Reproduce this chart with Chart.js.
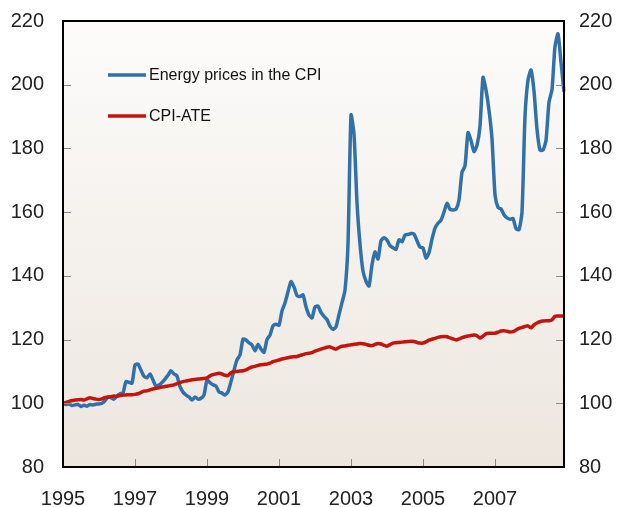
<!DOCTYPE html>
<html>
<head>
<meta charset="utf-8">
<script src="https://cdn.jsdelivr.net/npm/chart.js@4.4.1/dist/chart.umd.min.js"></script>
<style>
    html, body { margin: 0; padding: 0; background: #ffffff; }
    #wrap { width: 619px; height: 507px; }
</style>
</head>
<body>
<div id="wrap"><canvas id="energyChart" width="619" height="507"></canvas></div>
<script>
// Monthly series, January 1995 = first point
const startYear = 1995;
const monthCount = 168;

// Energy prices in the CPI (index)
const energyPrices = [
    100.0, 99.6, 99.8, 99.3, 99.5, 99.6, 99.0, 99.4, 99.1, 99.6, 99.5, 99.7,
    99.8, 100.0, 100.8, 102.0, 101.8, 101.3, 102.3, 103.0, 103.3, 106.8, 106.6, 106.3,
    112.0, 112.3, 110.4, 108.5, 108.0, 109.2, 107.3, 105.4, 105.7, 106.5, 107.6, 108.8,
    110.2, 109.2, 108.6, 105.2, 103.5, 102.6, 102.0, 101.0, 102.0, 101.3, 101.6, 102.6,
    107.3, 106.5, 105.8, 105.4, 103.6, 103.2, 102.6, 103.6, 106.8, 110.4, 113.6, 115.2,
    120.1, 119.9, 119.0, 118.3, 116.5, 118.5, 117.0, 116.0, 120.0, 121.4, 124.3, 124.8,
    124.5, 129.0, 131.5, 135.0, 138.2, 136.5, 133.8, 133.5, 134.0, 130.3, 127.7, 126.8,
    130.2, 130.5, 128.5, 127.3, 126.3, 124.2, 123.2, 124.0, 127.8, 131.6, 135.5, 150.0,
    190.5, 184.5, 163.0, 150.0, 141.5, 138.3, 136.8, 143.5, 147.5, 145.3, 151.0, 152.0,
    151.2, 149.5, 148.8, 148.3, 151.3, 150.7, 152.8, 153.0, 153.3, 153.1, 151.0, 149.0,
    148.8, 145.6, 147.3, 151.5, 155.0, 156.5, 157.5, 160.0, 162.8, 160.9, 160.7, 160.9,
    163.8, 172.5, 174.5, 185.0, 182.5, 179.0, 181.0, 187.0, 202.3, 198.3, 192.0, 183.0,
    165.5, 161.5, 161.0, 159.2, 158.2, 157.8, 158.0, 154.8, 154.5, 160.0, 190.0, 201.5,
    204.6, 198.0, 186.0, 179.5, 179.5, 182.5, 194.5, 198.5, 212.0, 216.0, 207.0, 197.8
];

// CPI-ATE (index)
const cpiAte = [
    100.0, 100.3, 100.6, 100.9, 101.0, 101.1, 101.2, 101.0, 101.4, 101.7, 101.5, 101.3,
    101.2, 101.4, 101.8, 101.9, 102.1, 102.3, 102.2, 102.4, 102.6, 102.6, 102.7, 102.7,
    102.8, 103.0, 103.4, 103.8, 103.9, 104.2, 104.5, 104.7, 104.9, 105.1, 105.3, 105.4,
    105.6, 105.8, 106.2, 106.5, 106.8, 107.0, 107.2, 107.4, 107.5, 107.6, 107.7, 107.8,
    108.0, 108.6, 109.0, 109.2, 109.4, 109.2, 108.8, 108.7, 109.6, 109.9, 110.0, 110.1,
    110.2, 110.5, 111.0, 111.4, 111.6, 111.9, 112.1, 112.2, 112.3, 112.6, 113.1, 113.3,
    113.6, 113.9, 114.1, 114.3, 114.5, 114.6, 114.7, 115.0, 115.3, 115.6, 115.7, 115.9,
    116.4, 116.7, 117.0, 117.3, 117.6, 117.7, 117.3, 117.0, 117.5, 117.9, 118.0, 118.2,
    118.4, 118.5, 118.6, 118.8, 118.7, 118.5, 118.2, 118.1, 118.5, 118.8, 118.6, 118.2,
    117.9, 118.4, 118.9, 119.0, 119.1, 119.2, 119.3, 119.4, 119.5, 119.4, 119.1, 118.9,
    118.9, 119.3, 119.8, 120.1, 120.4, 120.7, 120.9, 121.0, 120.9, 120.5, 120.2, 119.9,
    120.2, 120.6, 120.9, 121.1, 121.3, 121.4, 121.2, 120.5, 121.1, 121.8, 122.0, 122.0,
    122.0, 122.3, 122.7, 122.8, 122.6, 122.4, 122.5, 123.0, 123.5, 123.8, 124.1, 124.3,
    123.7, 124.6, 125.2, 125.6, 125.8, 125.9, 125.9, 126.2, 127.3, 127.4, 127.4, 127.4
];

// Axis settings
const yMin = 80;
const yMax = 220;
const yStep = 20;
const labelYears = [1995, 1997, 1999, 2001, 2003, 2005, 2007];

const seriesNames = ['Energy prices in the CPI', 'CPI-ATE'];
const seriesColors = ['#3171aa', '#c3150d'];

// Month labels, e.g. "1995-01"
const monthLabels = [];
for (let i = 0; i < monthCount; i++) {
    const y = startYear + Math.floor(i / 12);
    const m = (i % 12) + 1;
    monthLabels.push(y + '-' + String(m).padStart(2, '0'));
}

const FONT = '"Liberation Sans", Arial, sans-serif';

/**
 * Gradient plot background + black frame + inner tick marks
 */
const framePlugin = {
    id: 'frame',
    beforeDatasetsDraw(chart) {
        const { ctx, chartArea: a } = chart;
        const grad = ctx.createLinearGradient(0, a.top, 0, a.bottom);
        grad.addColorStop(0, '#fdfcfb');
        grad.addColorStop(1, '#ece6de');
        ctx.save();
        ctx.fillStyle = grad;
        ctx.fillRect(a.left, a.top, a.right - a.left, a.bottom - a.top);
        ctx.restore();
    },
    afterDraw(chart) {
        const { ctx, chartArea: a, scales } = chart;
        ctx.save();

        // Inner tick marks
        ctx.strokeStyle = '#8a8a8a';
        ctx.lineWidth = 1;
        const len = 8;
        ctx.beginPath();
        for (let v = yMin + yStep; v < yMax; v += yStep) {
            const py = Math.round(scales.y.getPixelForValue(v)) + 0.5;
            ctx.moveTo(a.left, py);
            ctx.lineTo(a.left + len, py);
            ctx.moveTo(a.right, py);
            ctx.lineTo(a.right - len, py);
        }
        labelYears.forEach(yr => {
            const idx = (yr - startYear) * 12;
            if (idx === 0) return;
            const px = Math.round(scales.x.getPixelForValue(idx)) + 0.5;
            ctx.moveTo(px, a.bottom);
            ctx.lineTo(px, a.bottom - len);
        });
        ctx.stroke();

        // Frame
        ctx.strokeStyle = '#000000';
        ctx.lineWidth = 2;
        ctx.strokeRect(a.left, a.top, a.right - a.left, a.bottom - a.top);
        ctx.restore();
    }
};

/**
 * Legend drawn inside the plot area
 */
const insideLegendPlugin = {
    id: 'insideLegend',
    afterDraw(chart) {
        const { ctx, chartArea: a } = chart;
        ctx.save();
        ctx.font = '16px ' + FONT;
        ctx.textBaseline = 'middle';
        chart.data.datasets.forEach((ds, i) => {
            const y = a.top + 54 + i * 41;
            ctx.strokeStyle = ds.borderColor;
            ctx.lineWidth = 3.5;
            ctx.beginPath();
            ctx.moveTo(a.left + 45, y);
            ctx.lineTo(a.left + 83, y);
            ctx.stroke();
            ctx.fillStyle = '#111111';
            ctx.fillText(ds.label, a.left + 86, y + 1);
        });
        ctx.restore();
    }
};

const tickFont = { family: FONT, size: 20 };

// Fixed axis sizes so the plot frame lands where it does in the original
function fixWidth(w) {
    return scale => {
        scale.width = w;
        scale.paddingTop = 0;
        scale.paddingBottom = 0;
    };
}

new Chart(document.getElementById('energyChart'), {
    type: 'line',
    data: {
        labels: monthLabels,
        datasets: [{
            label: seriesNames[0],
            data: energyPrices,
            borderColor: seriesColors[0],
            borderWidth: 3.5,
            pointRadius: 0,
            tension: 0.2,
            order: 1
        }, {
            label: seriesNames[1],
            data: cpiAte,
            borderColor: seriesColors[1],
            borderWidth: 3.5,
            pointRadius: 0,
            tension: 0.2,
            order: 0
        }]
    },
    options: {
        responsive: false,
        animation: false,
        devicePixelRatio: 1,
        layout: { padding: { top: 21, left: 0, right: 0, bottom: 0 } },
        plugins: {
            legend: { display: false },
            tooltip: { enabled: false }
        },
        scales: {
            x: {
                type: 'category',
                offset: false,
                grid: { display: false, drawTicks: false },
                border: { display: false },
                ticks: {
                    autoSkip: false,
                    maxRotation: 0,
                    padding: 20,
                    color: '#222222',
                    font: tickFont,
                    callback(val) {
                        const lab = this.getLabelForValue(val);
                        const yr = parseInt(lab.slice(0, 4), 10);
                        if (lab.slice(5) === '01' && labelYears.includes(yr)) return String(yr);
                        return null;
                    }
                },
                afterFit(scale) {
                    scale.height = 40;
                    scale.paddingLeft = 0;
                    scale.paddingRight = 0;
                }
            },
            y: {
                position: 'left',
                min: yMin,
                max: yMax,
                grid: { display: false, drawTicks: false },
                border: { display: false },
                ticks: { stepSize: yStep, padding: 19, color: '#222222', font: tickFont },
                afterFit: fixWidth(63)
            },
            y2: {
                position: 'right',
                display: true,
                min: yMin,
                max: yMax,
                grid: { display: false, drawTicks: false },
                border: { display: false },
                ticks: { stepSize: yStep, padding: 15, color: '#222222', font: tickFont },
                afterFit: fixWidth(55)
            }
        }
    },
    plugins: [framePlugin, insideLegendPlugin]
});
</script>
</body>
</html>
